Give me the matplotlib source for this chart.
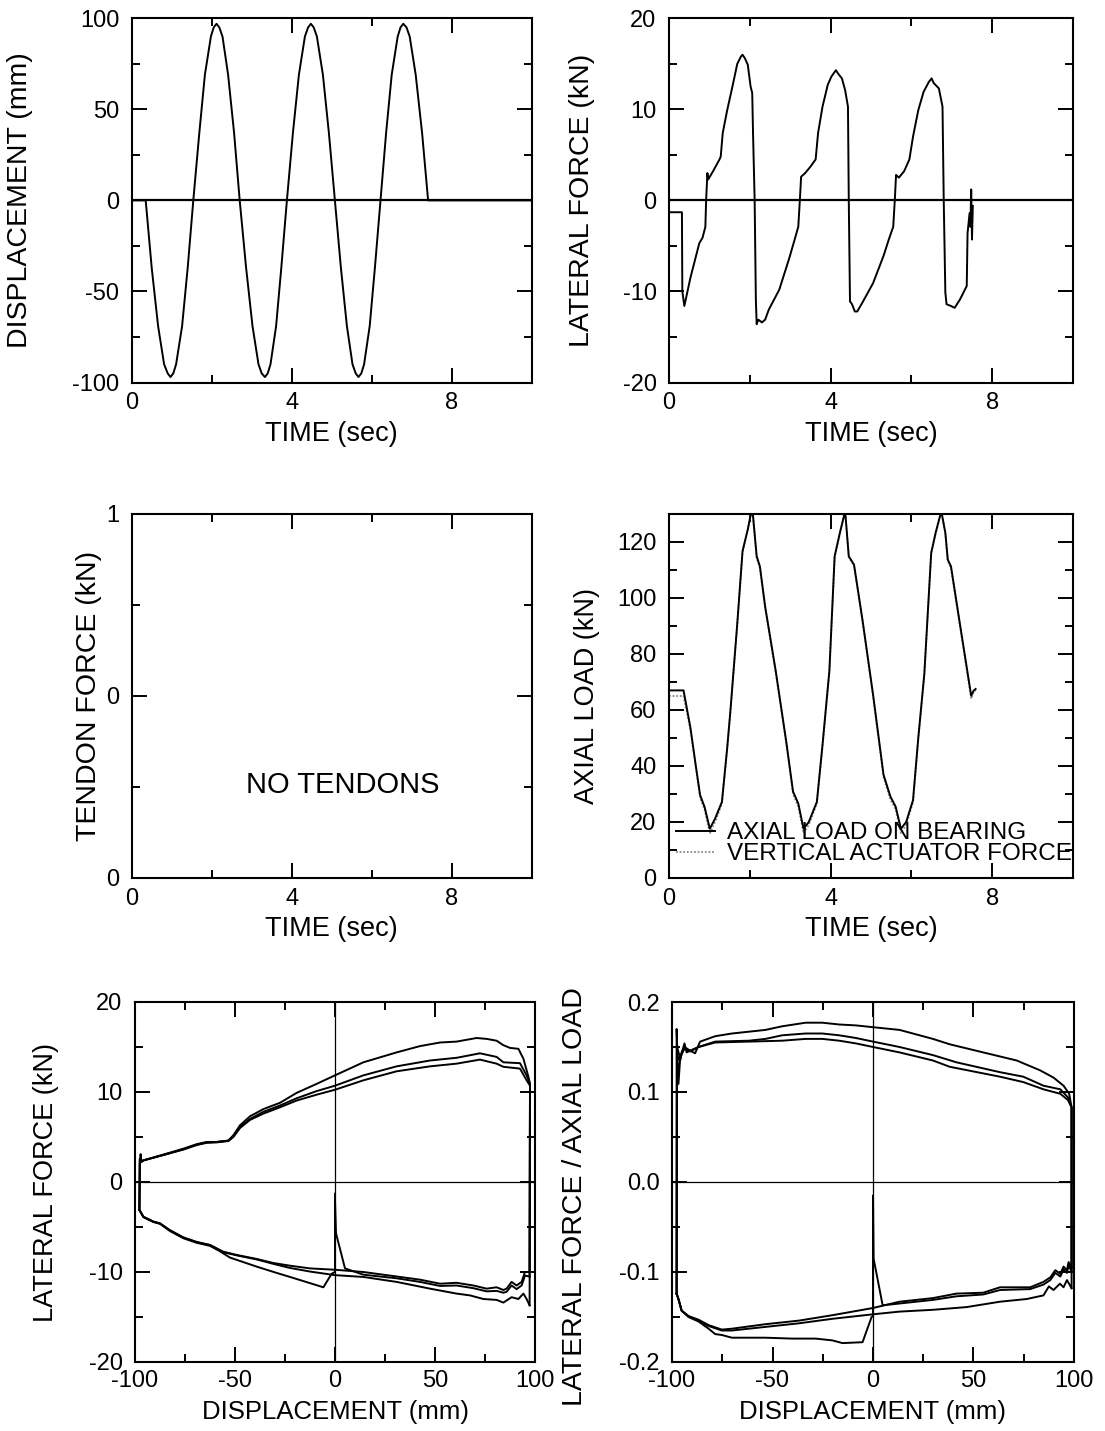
import matplotlib
matplotlib.use("Agg")
import matplotlib.pyplot as plt
from matplotlib.ticker import MultipleLocator, FormatStrFormatter, FixedLocator

plt.rcParams['font.family'] = ['Liberation Sans', 'DejaVu Sans']
plt.rcParams['axes.unicode_minus'] = False

# ---------------- data ----------------
# Top-left: displacement vs time
disp_t = [0.00, 0.35, 0.50, 0.66, 0.81, 0.90, 0.97, 1.04, 1.11, 1.26, 1.40, 1.54, 1.69, 1.83, 1.98, 2.05, 2.12,
          2.19, 2.27, 2.41, 2.56, 2.70, 2.86, 3.02, 3.17, 3.25, 3.33, 3.40, 3.47, 3.61, 3.74, 3.88, 4.03, 4.18,
          4.33, 4.41, 4.48, 4.55, 4.63, 4.78, 4.93, 5.08, 5.23, 5.38, 5.52, 5.60, 5.67, 5.74, 5.81, 5.95, 6.08, 6.22,
          6.36, 6.50, 6.65, 6.72, 6.79, 6.87, 6.95, 7.10, 7.26, 7.41, 10.0]
disp_mm = [0, 0, -37, -69, -90, -95, -97, -95, -90, -69, -37, 0, 37, 69, 90, 95, 97,
           95, 90, 69, 37, 0, -37, -69, -90, -95, -97, -95, -90, -69, -37, 0, 37, 69,
           90, 95, 97, 95, 90, 69, 37, 0, -37, -69, -90, -95, -97, -95, -90, -69, -37, 0,
           37, 69, 90, 95, 97, 95, 90, 69, 37, 0, 0]

# Top-right: lateral force vs time
lf_pre_t = [0.0, 0.32]
lf_pre = [-10.0, -10.0]
lf_t = [0, 0.32, 0.33, 0.38, 0.53, 0.75, 0.83, 0.90, 0.92, 0.95, 0.97, 1.09, 1.25, 1.28, 1.33,
        1.44, 1.57, 1.69, 1.78, 1.82, 1.88, 1.95, 2.02, 2.06, 2.08, 2.12, 2.15, 2.17, 2.21,
        2.30, 2.38, 2.47, 2.73, 2.98, 3.11, 3.20, 3.24, 3.27, 3.37, 3.50, 3.63, 3.69, 3.80,
        3.93, 4.02, 4.13, 4.19, 4.28, 4.36, 4.43, 4.45, 4.48, 4.53, 4.60, 4.66, 4.79, 5.05,
        5.31, 5.44, 5.55, 5.59, 5.62, 5.69, 5.82, 5.95, 6.04, 6.17, 6.30, 6.43, 6.50, 6.55,
        6.68, 6.77, 6.80, 6.84, 6.87, 6.98, 7.07, 7.20, 7.37, 7.39, 7.44, 7.46, 7.48, 7.50, 7.52]
lf_kn = [-1.3, -1.3, -10.0, -11.6, -8.5, -4.7, -4.1, -2.9, 0.1, 3.0, 2.3, 3.2, 4.5, 4.8, 7.4,
         9.9, 12.5, 15.0, 15.8, 16.0, 15.6, 14.9, 12.5, 11.8, 7.4, 0.0, -10.9, -13.6, -13.1,
         -13.4, -13.1, -12.0, -9.8, -6.3, -4.3, -2.9, 0.1, 2.6, 3.0, 3.7, 4.5, 7.4, 10.3,
         12.7, 13.6, 14.3, 13.9, 13.4, 12.1, 10.3, 0.0, -11.1, -11.4, -12.2, -12.2, -11.2, -9.1,
         -6.1, -4.3, -2.9, 0.1, 2.8, 2.5, 3.2, 4.5, 7.0, 9.9, 11.9, 13.0, 13.4, 12.9,
         12.3, 10.3, 0.1, -10.1, -11.4, -11.6, -11.8, -10.9, -9.4, -3.6, -1.4, -2.9, 1.2, -4.3, -0.6]

# Middle-right: axial load vs time
ax_t = [0, 0.36, 0.53, 0.66, 0.77, 0.88, 1.01, 1.14, 1.31, 1.44, 1.52, 1.69, 1.82, 1.95, 2.04,
        2.08, 2.17, 2.25, 2.38, 2.64, 2.90, 3.07, 3.20, 3.33, 3.46, 3.66, 3.80, 3.97, 4.10,
        4.23, 4.36, 4.45, 4.58, 4.79, 5.05, 5.31, 5.48, 5.61, 5.74, 5.87, 6.04, 6.17, 6.32,
        6.49, 6.60, 6.74, 6.84, 6.90, 6.98, 7.16, 7.48, 7.54, 7.59]
axial_bearing = [67, 67, 53.7, 40.4, 29.6, 25.4, 17.6, 21.2, 27.2, 46.4, 59.7, 90.9, 116.7, 124.5, 131,
                 129.3, 114.9, 111.3, 96.9, 74.1, 48.9, 30.9, 26.6, 17.6, 20, 27.2, 47.6, 74.1, 114.9,
                 123.3, 131, 114.9, 111.9, 92.1, 65.6, 36.9, 29.1, 25.5, 17.6, 20, 27.8, 50, 72.9,
                 116.1, 123.3, 131, 123.3, 113.7, 111.3, 94.5, 65.1, 66.9, 67.5]
axial_actuator = [65, 65, 53, 40, 28.5, 24.5, 15.8, 20, 26.5, 46, 59.5, 90.5, 116.5, 124.5, 131,
                  129, 114.5, 110.5, 96.5, 73.5, 48.5, 30, 25.5, 16, 19, 26.5, 47, 73.5, 114.5,
                  123, 131, 114.5, 111.5, 91.5, 65, 36, 28, 24.5, 16, 19, 27, 49.5, 72.5,
                  116, 123, 131, 123, 113.5, 110.5, 94, 64, 66.5, 67]

# Bottom-left: lateral force vs displacement (branches in time order)
h_q0_x = [0, 0, -1.7, -5.8, -22.5, -29.2, -39.2, -52.5, -57.5, -62.5, -69.2, -75.8, -82.5, -87.5, -90.8, -95.8, -97.8]
h_q0_y = [-1.3, -10.0, -10.2, -11.7, -10.55, -10.1, -9.4, -8.4, -7.7, -7.1, -6.75, -6.25, -5.45, -4.65, -4.45, -3.9, -3.1]
h_u1_x = [-97.8, -97.6, -97.2, -96.8, -95.8, -85.8, -75.8, -69.2, -64.2, -59.2, -53.3, -50.8, -47.5, -42.5, -35.8,
          -27.5, -19.2, -9.2, 0, 14.2, 30.8, 42.5, 52.5, 60.8, 70.8, 75.8, 80.8, 84.2, 87.5, 91.7, 94.2, 96.7, 97.5, 97.3]
h_u1_y = [-3.1, 2.0, 3.1, 2.2, 2.4, 3.05, 3.7, 4.2, 4.45, 4.45, 4.6, 5.2, 6.3, 7.3, 8.1,
          8.8, 9.9, 10.9, 11.85, 13.3, 14.4, 15.1, 15.5, 15.6, 16.0, 15.9, 15.7, 15.2, 14.9, 14.8, 13.7, 11.7, 10.9, -13.7]
h_r1_x = [97.3, 95.8, 94.2, 91.7, 88.3, 84.2, 80.8, 74.2, 67.5, 60.8, 47.5, 30.8, 14.2, 0, -12.5, -22.5, -30.8,
          -39.2, -49.2, -55.8, -62.5, -69.2, -75.8, -82.5, -87.5, -90.8, -95.8, -97.8]
h_r1_y = [-13.7, -13.0, -12.4, -13.0, -12.8, -13.4, -13.1, -13.0, -12.6, -12.4, -11.85, -11.1, -10.55, -10.35, -9.95,
          -9.55, -9.1, -8.6, -8.15, -7.8, -7.0, -6.7, -6.2, -5.4, -4.6, -4.4, -3.9, -3.1]
h_u2_x = [-97.8, -97.6, -96.8, -95.8, -85.8, -75.8, -69.2, -64.2, -59.2, -53.3, -50.8, -47.5, -42.5, -35.8, -27.5,
          -19.2, -9.2, 0, 14.2, 30.8, 47.5, 60.8, 72.5, 80.8, 84.2, 92.5, 95.8, 97.5, 97.3]
h_u2_y = [-3.1, 2.6, 2.3, 2.4, 3.0, 3.65, 4.15, 4.4, 4.45, 4.6, 5.1, 6.1, 7.0, 7.8, 8.5,
          9.3, 10.1, 10.7, 11.85, 12.85, 13.5, 13.8, 14.3, 13.9, 13.3, 13.2, 11.85, 10.9, -10.0]
h_r2_x = [97.3, 95.0, 93.3, 90.8, 88.3, 85.8, 84.2, 80.8, 75.8, 69.2, 60.8, 52.5, 42.5, 30.8, 14.2, 0, -12.5,
          -22.5, -30.8, -39.2, -49.2, -55.8, -62.5, -69.2, -75.8, -82.5, -87.5, -90.8, -95.8, -97.8]
h_r2_y = [-10.0, -10.0, -11.1, -11.5, -11.1, -11.85, -12.0, -11.7, -11.85, -11.5, -11.2, -11.3, -10.85, -10.5, -10.0,
          -9.75, -9.6, -9.3, -9.0, -8.55, -8.1, -7.75, -7.0, -6.65, -6.15, -5.35, -4.6, -4.4, -3.85, -3.1]
h_u3_x = [-97.8, -97.6, -96.8, -95.8, -85.8, -75.8, -69.2, -64.2, -59.2, -53.3, -50.8, -47.5, -42.5, -35.8, -27.5,
          -19.2, -9.2, 0, 14.2, 30.8, 47.5, 60.8, 72.5, 80.8, 84.2, 92.5, 95.8, 97.5, 97.3]
h_u3_y = [-3.1, 2.5, 2.3, 2.4, 3.0, 3.6, 4.1, 4.35, 4.4, 4.55, 5.0, 6.0, 6.9, 7.6, 8.3,
          9.05, 9.7, 10.25, 11.3, 12.3, 12.85, 13.15, 13.6, 13.15, 12.8, 12.6, 11.3, 10.7, -10.5]
h_r3_x = [97.3, 95.0, 93.3, 90.8, 88.3, 85.8, 84.2, 80.8, 75.8, 69.2, 60.8, 52.5, 42.5, 30.8, 14.2, 5.0, 0.5, 0.0, 0.0]
h_r3_y = [-10.5, -10.4, -11.5, -11.9, -11.5, -12.2, -12.3, -12.1, -12.15, -11.8, -11.5, -11.55, -11.1, -10.7, -10.3,
          -9.6, -5.7, -2.0, -4.0]

# Bottom-right: lateral force / axial load vs displacement
n_q0_x = [0, 0, -0.7, -5.2, -15.2, -20.2, -28.5, -40.2, -53.5, -70.2, -75.2, -78.5, -81.8, -86.8, -91.8, -95.2, -96.8, -97.7]
n_q0_y = [-0.019, -0.149, -0.150, -0.178, -0.179, -0.176, -0.174, -0.174, -0.173, -0.173, -0.170, -0.169, -0.163,
          -0.155, -0.150, -0.143, -0.130, -0.124]
n_u1_x = [-97.7, -97.7, -96.8, -96.0, -95.2, -93.8, -92.7, -91.0, -88.5, -86.8, -86.0, -78.5, -70.2, -61.8, -53.5,
          -45.2, -33.5, -25.2, -16.8, -8.5, 0, 13.2, 29.8, 38.2, 54.8, 71.5, 83.2, 89.8, 94.8, 97.6, 98.8, 98.8]
n_u1_y = [-0.124, 0.170, 0.109, 0.135, 0.143, 0.154, 0.144, 0.146, 0.143, 0.152, 0.156, 0.162, 0.165, 0.167, 0.169,
          0.173, 0.177, 0.177, 0.175, 0.174, 0.172, 0.169, 0.159, 0.153, 0.144, 0.135, 0.124, 0.116, 0.107, 0.098, 0.083, -0.118]
n_r1_x = [98.8, 96.5, 94.8, 93.0, 89.8, 87.5, 84.8, 76.5, 63.2, 46.5, 29.8, 13.2, 0, -20.2, -36.8, -53.5, -70.2,
          -75.2, -81.8, -86.8, -91.8, -95.2, -96.8, -97.7]
n_r1_y = [-0.118, -0.109, -0.117, -0.113, -0.120, -0.116, -0.126, -0.130, -0.133, -0.139, -0.142, -0.144, -0.147,
          -0.152, -0.157, -0.161, -0.165, -0.165, -0.160, -0.154, -0.149, -0.143, -0.130, -0.124]
n_u2_x = [-97.7, -97.5, -96.0, -95.2, -93.8, -91.0, -86.8, -78.5, -61.8, -53.5, -45.2, -33.5, -25.2, -16.8, -8.5,
          0, 13.2, 29.8, 41.5, 63.2, 74.8, 84.8, 93.2, 97.0, 98.8, 98.8]
n_u2_y = [-0.124, 0.150, 0.138, 0.144, 0.150, 0.146, 0.150, 0.156, 0.157, 0.159, 0.163, 0.165, 0.165, 0.163, 0.160,
          0.156, 0.150, 0.141, 0.133, 0.122, 0.117, 0.107, 0.103, 0.094, 0.083, -0.095]
n_r2_x = [98.8, 97.3, 96.5, 94.8, 93.2, 90.7, 88.2, 84.8, 78.2, 63.2, 54.8, 41.5, 29.8, 13.2, 0, -20.2, -36.8,
          -53.5, -70.2, -75.2, -81.8, -86.8, -91.8, -95.2, -96.8, -97.7]
n_r2_y = [-0.095, -0.089, -0.098, -0.094, -0.102, -0.098, -0.106, -0.111, -0.117, -0.117, -0.123, -0.124, -0.129,
          -0.133, -0.140, -0.148, -0.154, -0.158, -0.163, -0.164, -0.159, -0.153, -0.149, -0.143, -0.130, -0.124]
n_u3_x = [-97.7, -97.5, -96.0, -95.2, -93.8, -91.0, -86.8, -78.5, -61.8, -45.2, -33.5, -25.2, -16.8, -8.5, 0,
          13.2, 29.8, 38.2, 63.2, 74.8, 84.8, 93.2, 97.0, 98.8, 98.8]
n_u3_y = [-0.124, 0.140, 0.135, 0.142, 0.148, 0.145, 0.150, 0.155, 0.156, 0.157, 0.159, 0.159, 0.157, 0.154, 0.150,
          0.144, 0.135, 0.128, 0.117, 0.111, 0.103, 0.098, 0.091, 0.083, -0.100]
n_r3_x = [98.8, 97.3, 96.5, 94.8, 93.2, 90.7, 88.2, 84.8, 78.2, 63.2, 54.8, 41.5, 29.8, 13.2, 4.8, 0.3, 0, 0]
n_r3_y = [-0.100, -0.092, -0.101, -0.097, -0.105, -0.101, -0.109, -0.114, -0.119, -0.120, -0.125, -0.127, -0.131,
          -0.135, -0.137, -0.085, -0.015, -0.05]

# tick labels / text
time_ticks = [0, 4, 8]
tendon_ticks = [0, 0.5, 1]
legend_labels = ["AXIAL LOAD ON BEARING", "VERTICAL ACTUATOR FORCE"]

# ---------------- figure ----------------
W, H = 1105, 1431
fig = plt.figure(figsize=(W / 100, H / 100), dpi=100)

def rect(x0, y0, x1, y1):
    return [x0 / W, 1 - y1 / H, (x1 - x0) / W, (y1 - y0) / H]

LW = 1.4
TICK = 17
YLAB = 20.5

def style(ax, xmaj, xmin, ymaj, ymin, xpad=7, ypad=9):
    ax.xaxis.set_major_locator(MultipleLocator(xmaj) if not isinstance(xmaj, list) else FixedLocator(xmaj))
    ax.xaxis.set_minor_locator(MultipleLocator(xmin))
    ax.yaxis.set_major_locator(MultipleLocator(ymaj) if not isinstance(ymaj, list) else FixedLocator(ymaj))
    ax.yaxis.set_minor_locator(MultipleLocator(ymin))
    ax.tick_params(which='both', direction='in', top=True, right=True, width=1.4, labelsize=TICK)
    ax.tick_params(which='major', length=10.5)
    ax.tick_params(which='minor', length=5.5)
    ax.tick_params(axis='x', pad=xpad)
    ax.tick_params(axis='y', pad=ypad)
    for s in ax.spines.values():
        s.set_linewidth(1.5)

# Top-left
ax1 = fig.add_axes(rect(131.7, 18.3, 531.7, 382.5))
ax1.plot(disp_t, disp_mm, color='black', lw=LW)
ax1.axhline(0, color='black', lw=1.6)
ax1.set_xlim(0, 10); ax1.set_ylim(-100, 100)
style(ax1, 4, 2, 50, 25)
ax1.set_xticks(time_ticks)
ax1.set_xlabel("TIME (sec)", fontsize=19.5)
ax1.set_ylabel("DISPLACEMENT (mm)", fontsize=YLAB)
ax1.xaxis.set_label_coords(0.5, -0.105)
ax1.yaxis.set_label_coords(-0.247, 0.5)

# Top-right
ax2 = fig.add_axes(rect(669, 18.3, 1073, 382.5))
ax2.plot(lf_pre_t, lf_pre, color='black', lw=LW)
ax2.plot(lf_t, lf_kn, color='black', lw=LW)
ax2.axhline(0, color='black', lw=1.6)
ax2.set_xlim(0, 10); ax2.set_ylim(-20, 20)
style(ax2, 4, 2, 10, 5)
ax2.set_xticks(time_ticks)
ax2.set_xlabel("TIME (sec)", fontsize=19.5)
ax2.set_ylabel("LATERAL FORCE (kN)", fontsize=YLAB)
ax2.xaxis.set_label_coords(0.5, -0.105)
ax2.yaxis.set_label_coords(-0.183, 0.5)

# Middle-left
ax3 = fig.add_axes(rect(131.7, 514, 531.7, 878))
ax3.set_xlim(0, 10); ax3.set_ylim(0, 1)
style(ax3, 4, 2, tendon_ticks, 0.25)
ax3.set_xticks(time_ticks)
ax3.set_yticks(tendon_ticks)
ax3.yaxis.set_major_formatter(FormatStrFormatter('%.0f'))
ax3.text(5.28, 0.255, "NO TENDONS", fontsize=21, ha='center', va='center')
ax3.set_xlabel("TIME (sec)", fontsize=19.5)
ax3.set_ylabel("TENDON FORCE (kN)", fontsize=YLAB)
ax3.xaxis.set_label_coords(0.5, -0.105)
ax3.yaxis.set_label_coords(-0.074, 0.5)

# Middle-right
ax4 = fig.add_axes(rect(669, 514, 1073, 878))
ax4.plot(ax_t, axial_actuator, color='#8a8a8a', lw=1.3, ls=(0, (1, 1)), label=legend_labels[1], zorder=2)
ax4.plot(ax_t, axial_bearing, color='black', lw=LW, label=legend_labels[0], zorder=3)
ax4.set_xlim(0, 10); ax4.set_ylim(0, 130)
style(ax4, 4, 2, 20, 10)
ax4.set_xticks(time_ticks)
h, l = ax4.get_legend_handles_labels()
ax4.legend([h[1], h[0]], [l[1], l[0]], loc='lower left', bbox_to_anchor=(0.0, 0.015),
           frameon=False, fontsize=17.5, handlelength=1.6, handletextpad=0.5,
           labelspacing=-0.05, borderpad=0.2, borderaxespad=0.1)
ax4.set_xlabel("TIME (sec)", fontsize=19.5)
ax4.set_ylabel("AXIAL LOAD (kN)", fontsize=19.5)
ax4.xaxis.set_label_coords(0.5, -0.105)
ax4.yaxis.set_label_coords(-0.17, 0.5)

# Bottom-left
ax5 = fig.add_axes(rect(135, 1002, 535, 1362))
for xs, ys in [(h_q0_x, h_q0_y), (h_u1_x, h_u1_y), (h_r1_x, h_r1_y), (h_u2_x, h_u2_y),
               (h_r2_x, h_r2_y), (h_u3_x, h_u3_y), (h_r3_x, h_r3_y)]:
    ax5.plot(xs, ys, color='black', lw=LW)
ax5.axhline(0, color='black', lw=0.9)
ax5.axvline(0, color='black', lw=0.9)
ax5.set_xlim(-100, 100); ax5.set_ylim(-20, 20)
style(ax5, 50, 25, 10, 5, xpad=5.5)
ax5.set_xlabel("DISPLACEMENT (mm)", fontsize=18.5)
ax5.set_ylabel("LATERAL FORCE (kN)", fontsize=19.5)
ax5.xaxis.set_label_coords(0.5, -0.105)
ax5.yaxis.set_label_coords(-0.19, 0.5)

# Bottom-right
ax6 = fig.add_axes(rect(672, 1002, 1074, 1362))
for xs, ys in [(n_q0_x, n_q0_y), (n_u1_x, n_u1_y), (n_r1_x, n_r1_y), (n_u2_x, n_u2_y),
               (n_r2_x, n_r2_y), (n_u3_x, n_u3_y), (n_r3_x, n_r3_y)]:
    ax6.plot(xs, ys, color='black', lw=LW)
ax6.axhline(0, color='black', lw=0.9)
ax6.axvline(0, color='black', lw=0.9)
ax6.set_xlim(-100, 100); ax6.set_ylim(-0.2, 0.2)
style(ax6, 50, 25, 0.1, 0.05, xpad=5.5)
ax6.yaxis.set_major_formatter(FormatStrFormatter('%.1f'))
ax6.set_xlabel("DISPLACEMENT (mm)", fontsize=18.5)
ax6.set_ylabel("LATERAL FORCE / AXIAL LOAD", fontsize=YLAB)
ax6.xaxis.set_label_coords(0.5, -0.105)
ax6.yaxis.set_label_coords(-0.21, 0.46)

fig.savefig("out.png", dpi=100)
